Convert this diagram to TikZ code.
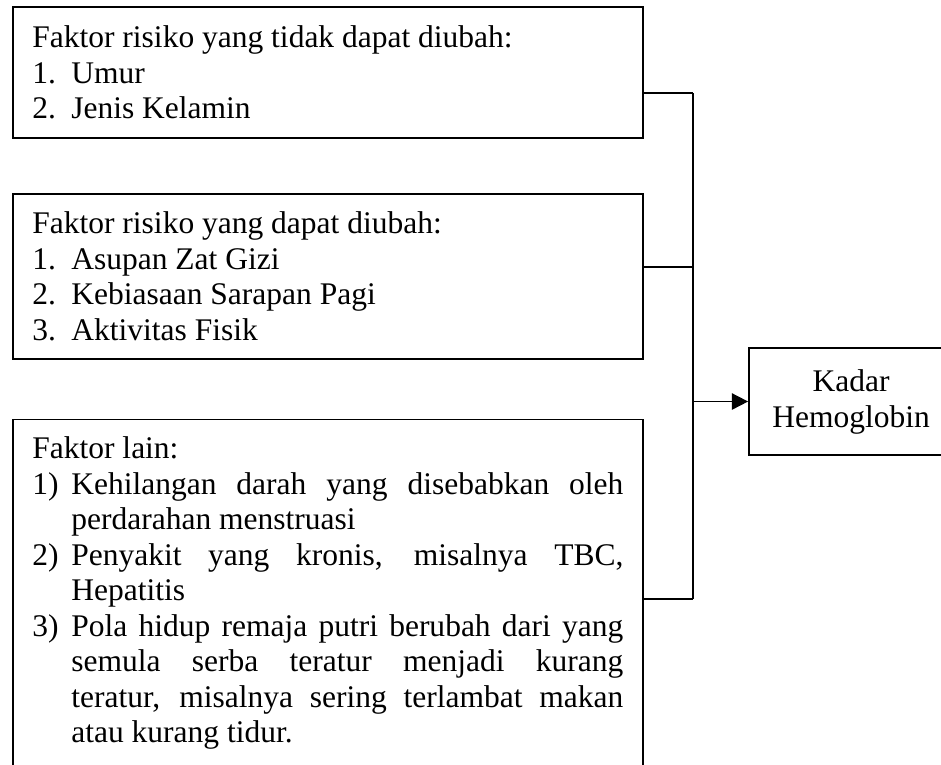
\documentclass[tikz,border=0pt]{standalone}
\usepackage{fontspec}
\setmainfont{Liberation Serif}
\usetikzlibrary{positioning,arrows.meta}
\setlength{\parindent}{0pt}
\newcommand{\butir}[2]{\par\hangindent=15.6pt\hangafter=1\makebox[15.6pt][l]{#1}#2}

\begin{document}
\begin{tikzpicture}[line width=0.7pt]
        \tikzstyle{faktor node}=[draw,anchor=north west,align=justify,text width=236.4pt,inner xsep=7.8pt,inner ysep=7pt,font=\fontsize{12.6pt}{14.2pt}\selectfont]
        \tikzstyle{hasil node}=[draw,align=center,minimum width=81.6pt,minimum height=42.8pt,font=\fontsize{12.6pt}{14.4pt}\selectfont]
        \useasboundingbox (0,0) rectangle (376.4pt,-305.6pt);
        \clip (0,0) rectangle (376.4pt,-305.6pt);

        \node[faktor node,minimum height=52.4pt] (Tetap) at (4.8pt,-2.4pt)
            {Faktor risiko yang tidak dapat diubah:\butir{1.}{Umur}\butir{2.}{Jenis Kelamin}\par};
        \node[faktor node,minimum height=66pt,below=21.6pt of Tetap] (Ubah)
            {Faktor risiko yang dapat diubah:\butir{1.}{Asupan Zat Gizi}\butir{2.}{Kebiasaan Sarapan Pagi}\butir{3.}{Aktivitas Fisik}\par};
        \node[faktor node,text depth=140pt,below=23.6pt of Ubah] (Lain)
            {Faktor lain:%
            \butir{1)}{Kehilangan darah yang disebabkan oleh\linebreak perdarahan menstruasi}%
            \butir{2)}{Penyakit yang kronis, misalnya TBC,\linebreak Hepatitis}%
            \butir{3)}{Pola hidup remaja putri berubah dari yang\linebreak semula serba teratur menjadi kurang\linebreak teratur, misalnya sering terlambat makan\linebreak atau kurang tidur.}\par};
        \node[hasil node] (Kadar) at (340.4pt,-160.6pt) {Kadar\\Hemoglobin};

        \coordinate (J1) at (277.2pt,-37.2pt);
        \coordinate (J2) at (277.2pt,-106.8pt);
        \coordinate (J3) at (277.2pt,-239.6pt);
        \coordinate (J4) at (J1 |- Kadar.west);

        \draw (Tetap.east |- J1) -- (J1);
        \draw (Ubah.east |- J2) -- (J2);
        \draw (Lain.east |- J3) -- (J3);
        \draw (J1) -- (J3);
        \draw[-{Triangle[length=6.5pt,width=6.5pt]}] (J4) -- (Kadar.west);
    \end{tikzpicture}
\end{document}
